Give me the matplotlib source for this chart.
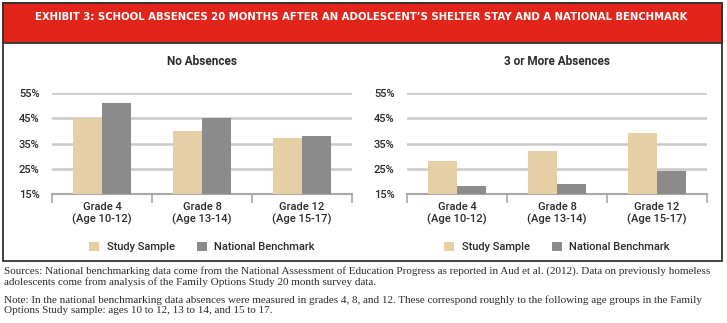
import matplotlib.pyplot as plt
from matplotlib.patches import Rectangle

# Share of adolescents by grade (percent)
grades = ['Grade 4\n(Age 10-12)', 'Grade 8\n(Age 13-14)', 'Grade 12\n(Age 15-17)']
no_abs_study = [45, 40, 37]
no_abs_national = [51, 45, 38]
three_plus_study = [28, 32, 39]
three_plus_national = [18, 19, 24]
y_ticks = [15, 25, 35, 45, 55]

study_color = '#e6cfa5'
national_color = '#8b8b8c'
text_color = '#2b2b2b'
grid_color = '#c9c9c9'

plt.rcParams['font.family'] = ['Roboto', 'DejaVu Sans']
plt.rcParams['font.weight'] = 'medium'

W, H = 727, 323
fig = plt.figure(figsize=(W / 100, H / 100), dpi=100)


def px(x0, y0, x1, y1):
    # pixel box (top-left origin) -> figure fraction rect
    return [x0 / W, 1 - y1 / H, (x1 - x0) / W, (y1 - y0) / H]


# outer frame and red header band
r = px(3, 3, 722, 261)
fig.patches.append(Rectangle((r[0], r[1]), r[2], r[3], transform=fig.transFigure,
                             facecolor='none', edgecolor='#333333', lw=1.3, zorder=0))
r = px(3, 3, 722, 43)
fig.patches.append(Rectangle((r[0], r[1]), r[2], r[3], transform=fig.transFigure,
                             facecolor='#e3241b', edgecolor='#333333', lw=1.3, zorder=1))
fig.text(361 / W, 1 - 17 / H,
         'EXHIBIT 3: SCHOOL ABSENCES 20 MONTHS AFTER AN ADOLESCENT\u2019S SHELTER STAY AND A NATIONAL BENCHMARK',
         color='white', fontsize=7.3, fontweight='bold', ha='center', va='center',
         family='DejaVu Sans')


def draw_panel(rect, title, study, national):
    ax = fig.add_axes(rect)
    pos = [0.5, 1.5, 2.5]
    w = 0.29
    b1 = ax.bar([p - w / 2 for p in pos], [v - 15 for v in study], w, bottom=15,
                color=study_color, zorder=3, label='Study Sample')
    b2 = ax.bar([p + w / 2 for p in pos], [v - 15 for v in national], w, bottom=15,
                color=national_color, zorder=3, label='National Benchmark')
    ax.set_xlim(0, 3)
    ax.set_ylim(15, 55)
    ax.set_yticks(y_ticks)
    ax.set_yticklabels([f'{t}%' for t in y_ticks])
    ax.tick_params(axis='y', length=0, pad=9, labelsize=8, labelcolor=text_color)
    ax.yaxis.grid(True, color=grid_color, lw=1.8, zorder=0)
    ax.set_xticks(pos)
    ax.set_xticklabels(grades)
    ax.tick_params(axis='x', which='major', length=0, pad=6, labelsize=8, labelcolor=text_color)
    ax.set_xticks([0, 1, 2, 3], minor=True)
    ax.tick_params(axis='x', which='minor', length=6.5, width=1.2, color='#a8a8a8')
    for s in ['top', 'right', 'left']:
        ax.spines[s].set_visible(False)
    ax.spines['bottom'].set_color('#a8a8a8')
    ax.spines['bottom'].set_linewidth(1.5)
    ax.text(0.5, 1.307, title, transform=ax.transAxes, ha='center', va='center',
            fontsize=8.5, fontweight='bold', color=text_color)
    ax.legend(handles=[b1, b2], loc='center', bbox_to_anchor=(0.5, -0.525), ncol=2,
              frameon=False, fontsize=8, handlelength=0.9, handleheight=0.9,
              handletextpad=0.65, columnspacing=2.0, labelcolor=text_color)
    return ax


draw_panel(px(52, 93, 352, 194), 'No Absences', no_abs_study, no_abs_national)
draw_panel(px(407, 93, 707, 194), '3 or More Absences', three_plus_study, three_plus_national)

notes = [
    ('Sources: National benchmarking data come from the National Assessment of Education Progress '
     'as reported in Aud et al. (2012). Data on previously homeless\n'
     'adolescents come from analysis of the Family Options Study 20 month survey data.', 273),
    ('Note: In the national benchmarking data absences were measured in grades 4, 8, and 12. '
     'These correspond roughly to the following age groups in the Family\n'
     'Options Study sample: ages 10 to 12, 13 to 14, and 15 to 17.', 302),
]
for txt, y in notes:
    fig.text(4 / W, 1 - (y - 6.5) / H, txt, fontsize=8.05, family='Liberation Serif',
             fontweight='normal', color=text_color, ha='left', va='top', linespacing=1.12)

fig.savefig('out.png', dpi=100)
